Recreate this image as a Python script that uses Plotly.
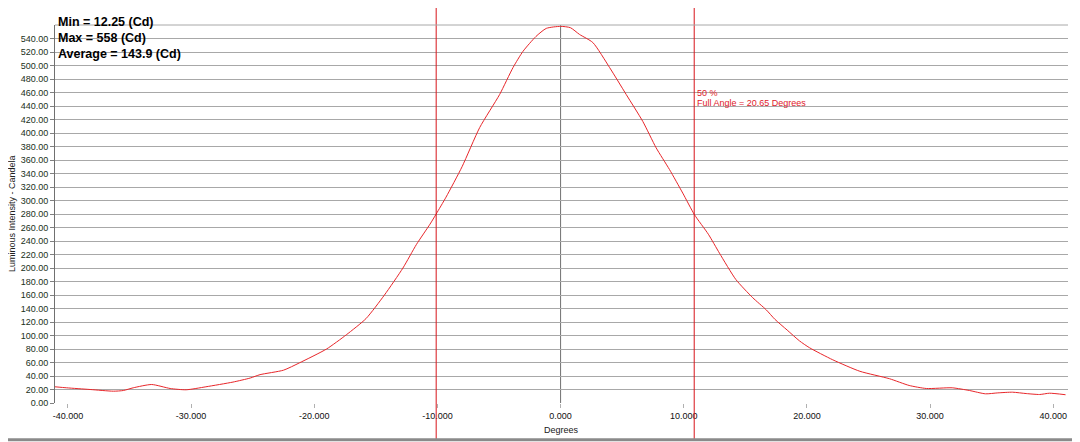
import plotly.graph_objects as go

degrees = [-41.05, -40.1, -38.2, -36.3, -35.5, -34.7, -33.2, -31.7, -30.4, -28.8, -26.6,
           -25.2, -24.4, -22.5, -21.2, -19.0, -17.4, -15.8, -14.3, -12.8, -11.7, -10.6,
           -10.1, -9.3, -8.0, -6.57, -4.95, -3.86, -3.05, -2.0, -1.16, 0.0, 0.8, 1.54,
           2.62, 3.98, 5.33, 6.68, 7.76, 8.84, 9.92, 10.87, 12.0, 12.9, 14.23, 15.6,
           16.7, 17.4, 18.4, 19.4, 20.2, 22.1, 24.3, 26.7, 28.3, 29.7, 31.8, 33.2,
           34.5, 35.5, 36.7, 37.8, 38.9, 39.7, 41.0]
candela = [24, 22.5, 20, 17.5, 18.5, 22.5, 27.4, 21.5, 19.6, 24, 31,
           37, 42, 48.6, 59.5, 80, 101, 125, 160, 200, 235, 265,
           280, 305, 350, 408, 457, 497, 521, 543, 555, 558, 556, 546,
           534, 497, 457, 417, 378, 346, 311, 279, 250, 222, 183, 156,
           138, 124, 108, 92, 82, 64, 47, 36, 26, 21.5, 22.5, 18.5,
           13.6, 15, 16, 14, 12.6, 14.5, 12.25]

y_ticks = list(range(0, 560, 20))
x_ticks = [-40, -30, -20, -10, 0, 10, 20, 30, 40]
half_angle_lines = [-10.1, 10.85]
stats_lines = ["Min = 12.25 (Cd)", "Max = 558 (Cd)", "Average = 143.9 (Cd)"]
angle_lines = ["50 %", "Full Angle = 20.65 Degrees"]

FONT = "Liberation Sans, Arial"

fig = go.Figure()
fig.add_trace(go.Scatter(x=degrees, y=candela, mode="lines",
                         line=dict(color="#e8262a", width=1, shape="spline", smoothing=0.6),
                         hoverinfo="skip", showlegend=False))

shapes = []
shapes.append(dict(type="line", xref="x", yref="paper", x0=0, x1=0, y0=0, y1=1,
                   line=dict(color="#707070", width=1), layer="below"))
for xv in half_angle_lines:
    shapes.append(dict(type="line", xref="x", yref="paper", x0=xv, x1=xv,
                       y0=-0.096, y1=1.07, line=dict(color="#d8141a", width=1)))
# window frame (right & bottom)
shapes.append(dict(type="line", xref="paper", yref="paper", x0=1.0085, x1=1.0085,
                   y0=-0.096, y1=1.07, line=dict(color="#8a8a8a", width=2)))
shapes.append(dict(type="line", xref="paper", yref="paper", x0=-0.06, x1=1.0103,
                   y0=-0.097, y1=-0.097, line=dict(color="#8a8a8a", width=3)))
shapes.append(dict(type="line", xref="paper", yref="paper", x0=0, x1=1, y0=1, y1=1,
                   line=dict(color="#a8a8a8", width=1)))

annotations = []
for i, t in enumerate(stats_lines):
    annotations.append(dict(text=t, xref="paper", yref="paper", x=0.001,
                            y=1.0085 - i * 0.0423, xanchor="left", yanchor="middle",
                            showarrow=False,
                            font=dict(family=FONT, size=12.5, color="#000000",
                                      weight="bold")))
for i, t in enumerate(angle_lines):
    annotations.append(dict(text=t, xref="x", yref="y", x=half_angle_lines[1] + 0.1,
                            y=459 - i * 15, xanchor="left", yanchor="middle",
                            showarrow=False,
                            font=dict(family=FONT, size=9, color="#e0202a")))
annotations.append(dict(text="Luminous Intensity - Candela", xref="paper", yref="paper",
                        x=0, y=0.5, xshift=-43, textangle=-90, showarrow=False,
                        xanchor="center", yanchor="middle",
                        font=dict(family=FONT, size=9, color="#202020")))
annotations.append(dict(text="Degrees", xref="paper", yref="paper",
                        x=(561 - 55) / 1013, y=0, yshift=-27, showarrow=False,
                        xanchor="center", yanchor="middle",
                        font=dict(family=FONT, size=9, color="#202020")))

# page body has an 8px margin, so the figure is sized/offset to compensate
fig.update_layout(
    width=1072, height=434,
    margin=dict(l=47, r=12, t=17, b=38.5),
    paper_bgcolor="white", plot_bgcolor="white",
    shapes=shapes, annotations=annotations,
    font=dict(family=FONT, size=9, color="#203030"),
    xaxis=dict(range=[-41.05, 41.2], tickvals=x_ticks,
               ticktext=[f"{v:.3f}" for v in x_ticks],
               showgrid=False, zeroline=False, showline=False, automargin=False,
               ticks="outside", ticklen=4, tickcolor="#b0b0b0",
               tickfont=dict(family=FONT, size=9, color="#101010")),
    yaxis=dict(range=[0, 560], tickvals=y_ticks,
               ticktext=[f"{v:.2f}" for v in y_ticks],
               showgrid=True, gridcolor="#a8a8a8", gridwidth=1, automargin=False,
               zeroline=False, showline=True, linecolor="#707070", linewidth=1,
               ticks="outside", ticklen=4, tickcolor="#808080",
               tickfont=dict(family=FONT, size=9, color="#203020")),
)

fig.write_html("out.html")
